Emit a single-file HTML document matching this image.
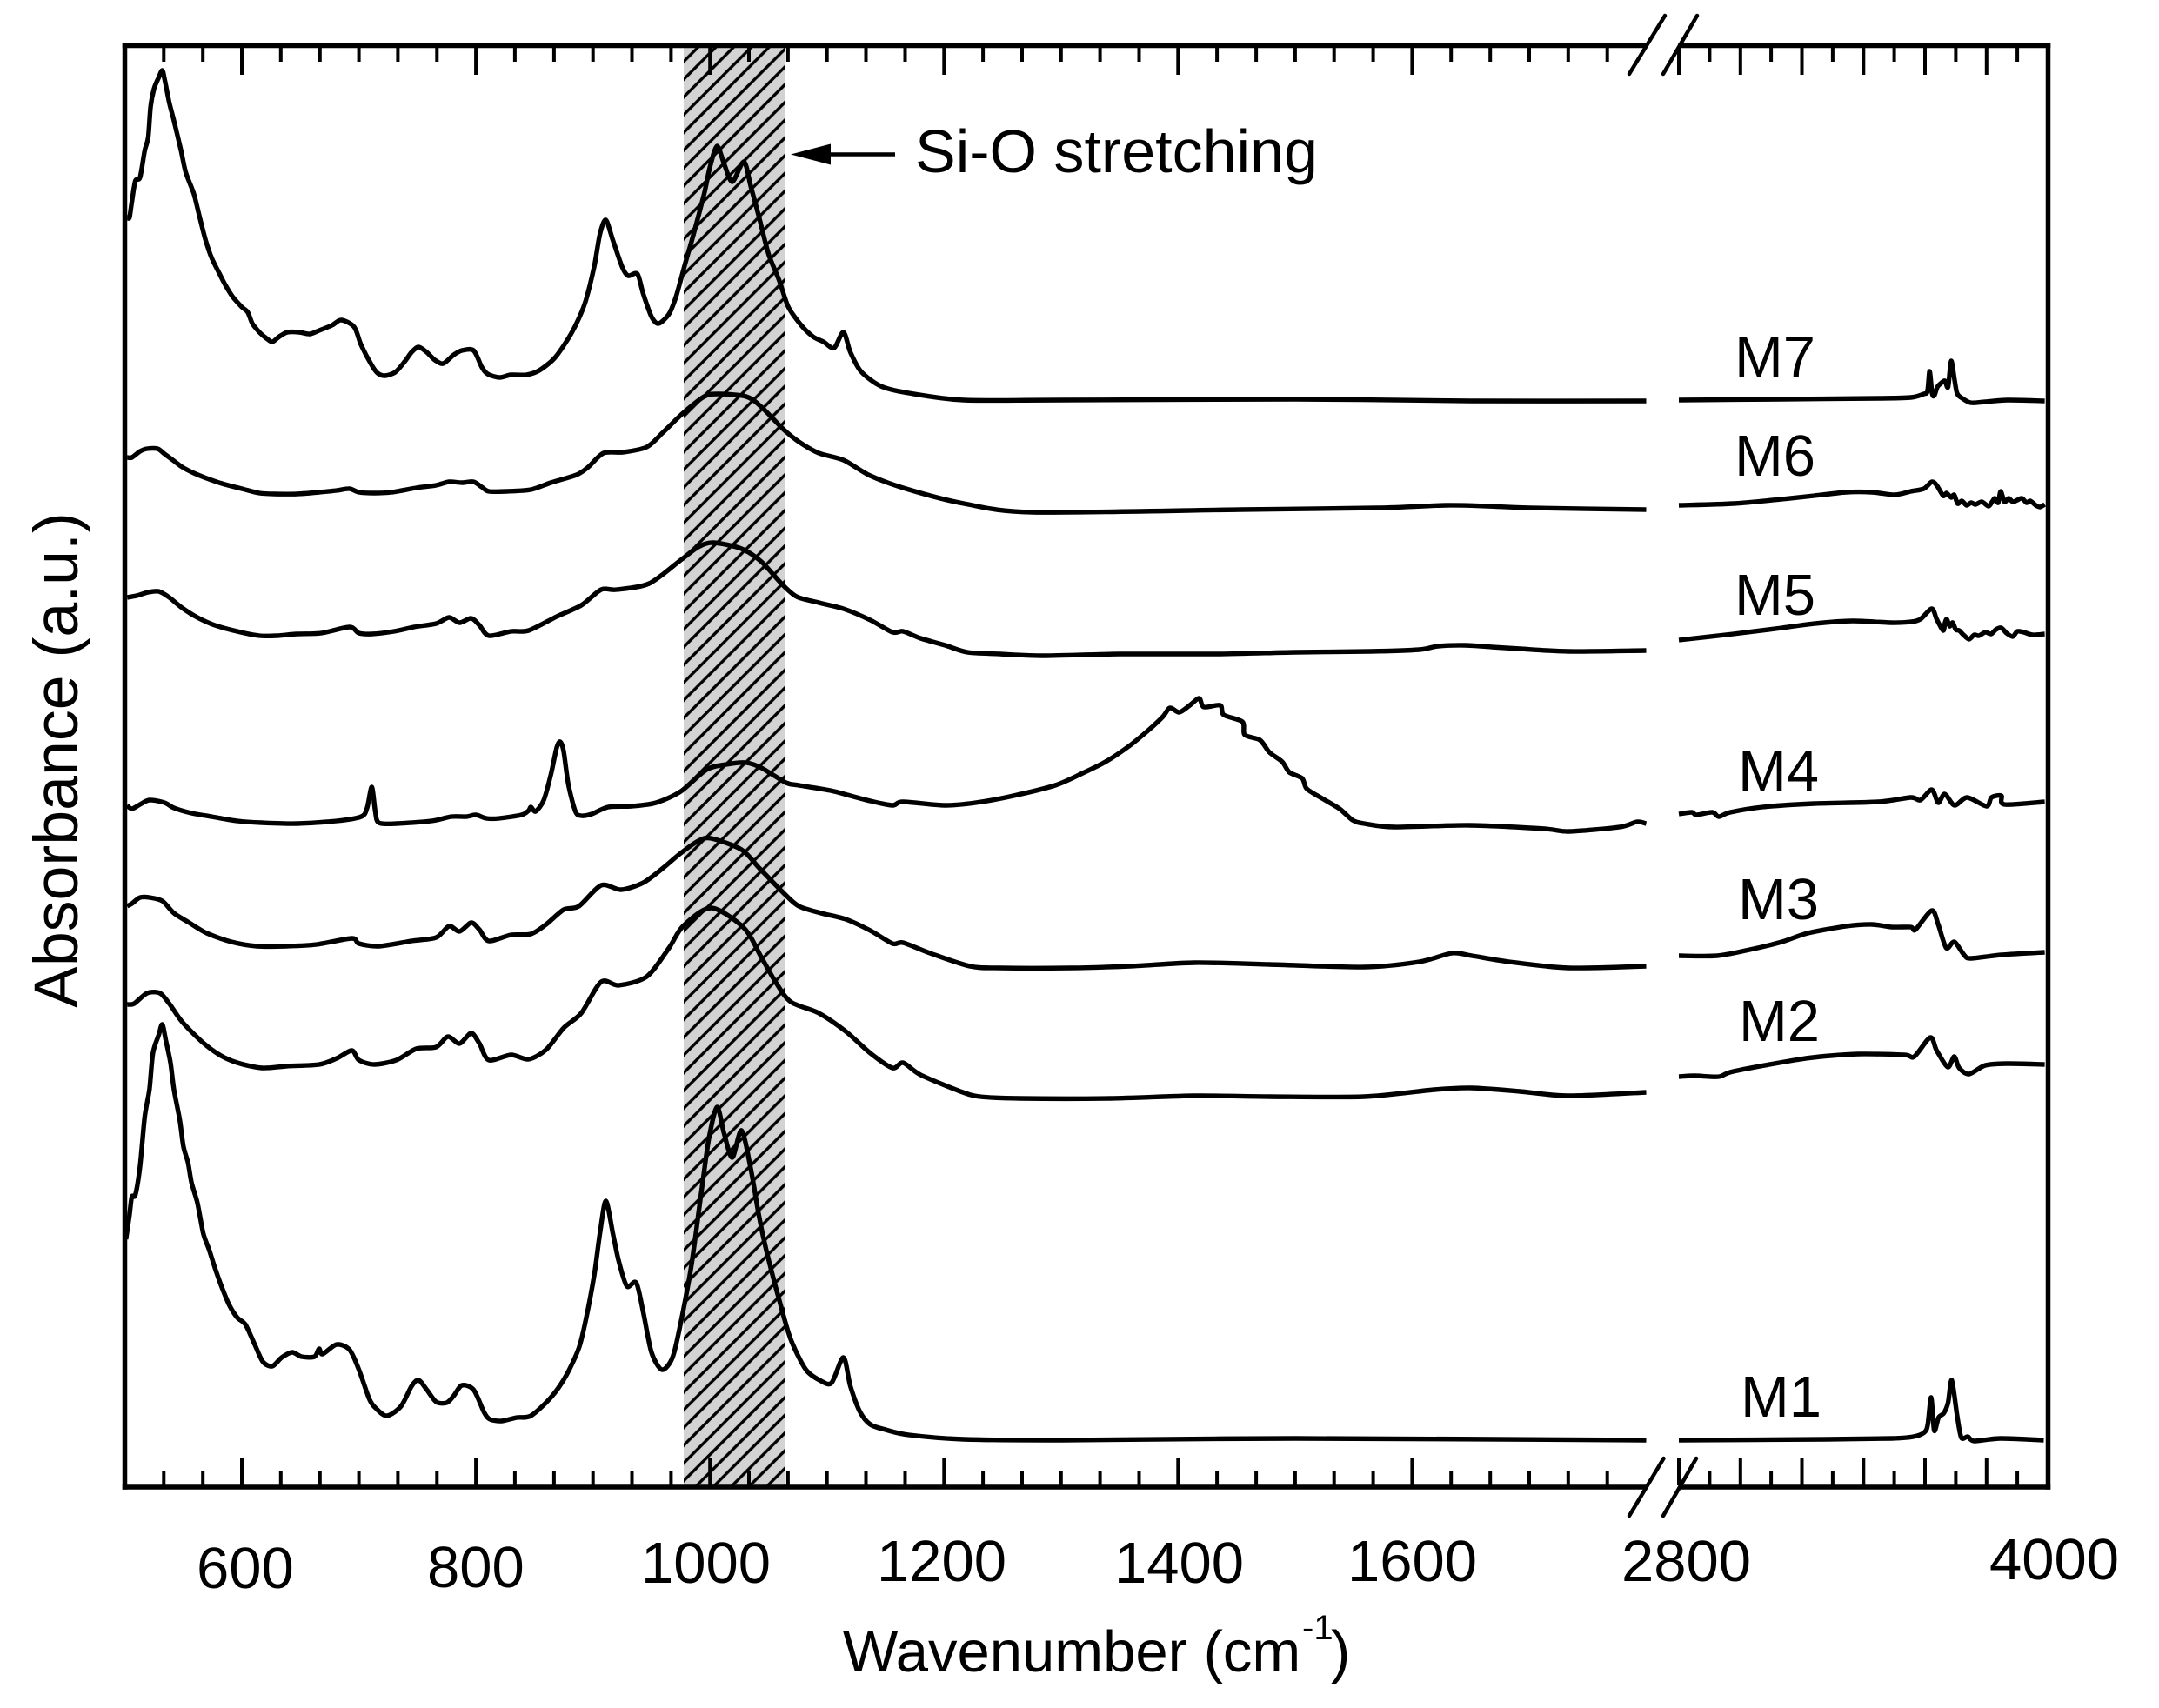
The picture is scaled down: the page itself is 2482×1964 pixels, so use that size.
<!DOCTYPE html>
<html lang="en">
<head>
<meta charset="utf-8">
<title>Absorbance spectra M1-M7</title>
<style>
html,body{margin:0;padding:0;background:#fff;}
svg{display:block;}
text{font-family:"Liberation Sans",Arial,sans-serif;fill:#000;}
</style>
</head>
<body>
<svg id="chart" xmlns="http://www.w3.org/2000/svg" width="2482" height="1964" viewBox="0 0 2482 1964">
<defs>
<pattern id="hatch" patternUnits="userSpaceOnUse" width="20.4" height="20.4">
<rect width="20.4" height="20.4" fill="#d3d3d3"/>
<path d="M-5.1,5.1 L5.1,-5.1 M0,20.4 L20.4,0 M15.3,25.5 L25.5,15.3" stroke="#000" stroke-width="3.4" fill="none"/>
</pattern>
</defs>
<rect width="2482" height="1964" fill="#fff"/>
<rect x="786" y="52" width="116" height="1658" fill="url(#hatch)"/>
<g id="ticks"></g>
<g id="series"></g>
<g stroke="#000" stroke-width="5.5" fill="none" stroke-linecap="square">
<path d="M143.5,52.5 V1710"/>
<path d="M2354.5,52.5 V1710"/>
<path d="M143.5,52.5 H1890"/>
<path d="M1932,52.5 H2354.5"/>
<path d="M143.5,1710 H1890"/>
<path d="M1932,1710 H2354.5"/>
</g>
<g stroke="#000" stroke-width="4.5" stroke-linecap="round" fill="none">
<path d="M1873,85 L1914,18"/>
<path d="M1912,85 L1951,18"/>
<path d="M1873,1743 L1912.5,1677"/>
<path d="M1912,1743 L1950,1677"/>
</g>
<g font-size="67">
<text x="226" y="1826">600</text>
<text x="491" y="1825">800</text>
<text x="737" y="1820">1000</text>
<text x="1008" y="1818">1200</text>
<text x="1281" y="1820">1400</text>
<text x="1549" y="1818">1600</text>
<text x="1864" y="1818">2800</text>
<text x="2287" y="1816">4000</text>
</g>
<text x="969" y="1922" font-size="67">Wavenumber (cm<tspan x="1497" y="1885" font-size="40">-1</tspan><tspan x="1530" y="1922">)</tspan></text>
<text transform="translate(89,1159) rotate(-90)" font-size="71.7">Absorbance (a.u.)</text>
<g>
<path d="M909,177.5 L955,165.5 V189.5 Z" fill="#000"/>
<path d="M950,177.5 H1029" stroke="#000" stroke-width="4.5" fill="none"/>
<text x="1052" y="198" font-size="70">Si-O stretching</text>
</g>
<g font-size="67">
<text x="1994" y="433">M7</text>
<text x="1994" y="547">M6</text>
<text x="1994" y="707">M5</text>
<text x="1998" y="909">M4</text>
<text x="1998" y="1057">M3</text>
<text x="1999" y="1197">M2</text>
<text x="2001" y="1629">M1</text>
</g>
</svg>
<script>
const majorTicksLow = [600,800,1000,1200,1400,1600];
const majorTicksHigh = [2800,3000,3200,3400,3600,3800];
const minorTicksHigh = [2900,3100,3300,3500,3700,3900];
const minorTicksLow = [533.3,566.7,633.3,666.7,700,733.3,766.7,833.3,866.7,900,933.3,966.7,1033.3,1066.7,1100,1133.3,1166.7,1233.3,1266.7,1300,1333.3,1366.7,1433.3,1466.7,1500,1533.3,1566.7,1633.3,1666.7,1700,1733.3,1766.7];

const m7Wavenumber = [502,504,506,509,513,517,520,522,525,529,532,534,538,542,548,552,559,564,569,574,581,586,592,600,605,609,615,621,626,632,639,649,658,666,677,685,696,702,711,716,722,731,739,745,751,758,765,772,781,788,798,805,810,820,830,843,854,867,879,888,894,901,906,911,917,925,930,938,943,950,956,965,971,978,986,995,1000,1006,1012,1019,1029,1035,1042,1050,1059,1067,1078,1088,1097,1106,1114,1120,1129,1146,1170,1217,1300,1500,1650,1800,2800,3135,3449,3554,3596,3608,3615,3623,3630,3640,3654,3665,3675,3685,3696,3704,3717,3748,3796,3869,3989];
const m7Absorbance = [1460,1460,1478,1502,1506,1537,1552,1587,1608,1621,1629,1619,1592,1571,1537,1512,1487,1460,1434,1414,1395,1382,1369,1357,1351,1338,1328,1321,1317,1323,1328,1328,1326,1330,1336,1342,1334,1313,1290,1281,1278,1282,1294,1305,1311,1305,1296,1292,1302,1307,1307,1288,1280,1276,1279,1279,1284,1298,1321,1344,1365,1403,1441,1457,1434,1403,1393,1395,1372,1346,1338,1349,1369,1403,1441,1487,1518,1542,1522,1501,1524,1495,1460,1418,1388,1357,1336,1323,1317,1310,1328,1305,1283,1266,1258,1250,1250,1251,1249,1249,1250,1251,1252,1253,1257,1260,1283,1258,1255,1265,1270,1272,1265,1295,1273,1258,1253,1247,1248,1250,1249];

const m6Wavenumber = [502,506,513,519,528,534,542,549,559,570,583,600,615,628,647,666,681,692,700,713,728,749,766,777,788,798,805,811,826,847,864,886,896,909,926,946,960,977,995,1007,1031,1044,1063,1076,1093,1114,1137,1170,1217,1276,1453,1570,1629,1665,1700,1800,2800,2977,3135,3240,3344,3428,3501,3554,3596,3622,3638,3659,3670,3685,3695,3706,3720,3735,3750,3764,3785,3806,3818,3827,3838,3846,3858,3872,3885,3900,3915,3930,3942,3960,3974,3989];
const m6Absorbance = [1184,1184,1191,1194,1194,1188,1180,1173,1166,1160,1154,1148,1143,1142,1142,1144,1146,1148,1144,1143,1144,1149,1152,1156,1155,1156,1150,1145,1145,1147,1155,1164,1173,1189,1190,1196,1213,1235,1254,1257,1254,1242,1216,1202,1189,1181,1163,1147,1131,1121,1124,1126,1129,1128,1126,1124,1129,1131,1136,1140,1144,1144,1141,1145,1148,1156,1152,1140,1143,1138,1141,1131,1134,1129,1132,1130,1133,1128,1133,1137,1132,1145,1133,1137,1133,1135,1137,1132,1134,1129,1127,1130];

const m5Wavenumber = [502,510,520,529,538,549,562,577,596,615,630,647,668,692,700,711,730,747,766,777,786,796,803,811,830,845,869,890,907,920,948,975,990,1003,1027,1044,1061,1074,1093,1114,1137,1156,1165,1180,1201,1220,1248,1286,1350,1436,1500,1564,1606,1622,1645,1668,1692,1734,1800,2800,2977,3135,3240,3365,3491,3554,3585,3622,3638,3659,3665,3671,3680,3690,3700,3711,3725,3743,3760,3775,3796,3815,3830,3848,3865,3885,3900,3921,3950,3989];
const m5Absorbance = [1023,1025,1029,1030,1023,1011,1000,991,984,979,979,981,982,989,982,981,984,989,993,1000,994,999,991,979,984,985,1001,1014,1032,1032,1039,1066,1081,1086,1079,1064,1039,1024,1017,1010,997,983,984,976,968,960,958,956,958,958,960,961,963,967,968,966,964,961,962,974,981,988,993,996,994,995,998,1010,998,985,994,998,990,994,986,985,980,975,980,979,983,981,986,988,982,978,984,983,980,981];

const m4Wavenumber = [502,506,513,521,534,542,557,574,596,617,647,681,702,707,711,714,717,732,762,779,792,800,809,820,839,845,847,851,858,864,869,872,875,879,885,890,899,913,933,954,975,997,1014,1031,1044,1065,1076,1103,1120,1137,1156,1165,1201,1227,1256,1295,1320,1338,1359,1376,1387,1393,1401,1410,1418,1422,1436,1439,1455,1457,1470,1478,1489,1495,1506,1510,1523,1538,1549,1559,1585,1649,1713,1734,1777,1792,1800,2800,2842,2857,2909,2930,2967,3072,3240,3449,3554,3585,3622,3643,3664,3696,3737,3800,3816,3848,3858,3989];
const m4Absorbance = [784,780,785,790,787,781,775,771,766,764,763,766,771,781,805,777,764,763,766,771,771,773,769,769,773,778,782,777,790,819,850,857,846,808,777,772,774,782,783,787,800,825,831,833,827,810,807,801,795,789,784,788,784,787,794,807,822,834,853,872,886,896,891,899,907,897,899,888,880,865,859,845,834,822,815,803,792,780,767,763,759,761,757,754,759,765,763,774,776,773,776,771,776,782,786,788,793,790,802,787,797,784,793,783,793,795,785,788];

const m3Wavenumber = [502,506,513,521,532,542,555,570,591,613,638,664,694,700,717,745,766,777,786,796,803,811,830,847,860,875,888,907,924,943,960,975,990,1001,1027,1042,1063,1076,1095,1116,1137,1156,1165,1188,1222,1248,1308,1359,1414,1478,1559,1606,1634,1651,1683,1734,1800,2800,2925,3030,3135,3219,3344,3428,3491,3554,3569,3622,3643,3669,3695,3727,3748,3848,3989];
const m3Absorbance = [668,671,678,678,674,660,649,637,627,622,622,624,631,625,622,628,632,645,639,649,641,628,635,636,647,664,668,692,687,695,712,729,743,746,733,712,683,668,660,653,640,625,626,614,599,597,597,599,603,601,598,604,614,611,604,597,599,611,611,618,627,637,645,647,644,644,641,663,647,620,627,612,608,612,615];

const m2Wavenumber = [502,508,519,530,538,549,566,581,596,617,638,666,681,694,700,713,732,749,766,776,786,796,803,811,830,845,860,875,890,907,922,946,965,977,1001,1029,1044,1056,1069,1093,1116,1137,1156,1165,1180,1214,1231,1265,1342,1414,1478,1559,1619,1651,1692,1734,1800,2800,2852,2930,2977,3176,3260,3386,3533,3565,3617,3638,3674,3695,3711,3743,3796,3869,3989];
const m2Absorbance = [555,556,568,568,556,535,512,497,488,482,484,486,493,502,491,486,491,504,506,518,510,522,510,491,497,492,503,528,545,581,577,587,620,645,666,643,609,581,558,545,524,499,482,488,474,455,449,447,447,450,449,449,457,459,455,450,454,472,473,472,478,491,495,498,497,495,517,502,483,495,482,475,485,487,486];

const m1Wavenumber = [501,504,506,509,513,517,521,524,529,532,535,539,542,547,550,554,557,562,567,572,577,582,589,596,603,611,618,626,634,643,651,662,666,669,681,692,700,709,715,724,736,745,751,758,766,775,781,788,798,807,812,822,835,847,864,877,888,894,901,906,911,917,922,929,937,943,950,959,968,975,984,993,999,1006,1012,1019,1027,1035,1042,1048,1059,1069,1082,1095,1104,1114,1120,1128,1137,1150,1170,1217,1300,1500,1800,2800,3280,3492,3562,3598,3609,3620,3630,3644,3661,3675,3687,3704,3718,3739,3760,3845,3986];
const m1Absorbance = [285,313,334,336,369,426,457,499,520,532,514,488,457,422,392,373,350,327,292,273,252,233,210,195,187,164,144,139,149,155,150,150,159,153,164,158,135,101,90,82,93,116,123,112,98,97,105,117,112,86,78,76,80,82,103,128,160,193,243,292,329,292,260,231,235,201,155,135,149,189,254,343,400,437,407,379,410,365,311,273,216,170,135,122,120,149,116,87,72,66,60,55,54,56,54,54,55,56,58,63,72,103,65,80,85,97,123,83,57,58,53,56,54];

const seriesNames = ['m1','m2','m3','m4','m5','m6','m7'];
const seriesWavenumbers = [m1Wavenumber,m2Wavenumber,m3Wavenumber,m4Wavenumber,m5Wavenumber,m6Wavenumber,m7Wavenumber];
const seriesAbsorbances = [m1Absorbance,m2Absorbance,m3Absorbance,m4Absorbance,m5Absorbance,m6Absorbance,m7Absorbance];

const SVG_NS = 'http://www.w3.org/2000/svg';
const breakLow = 1800;
const lowDomainStart = 500;
const lowRangeStart = 143.5;
const lowRangeEnd = 1892.5;
const highDomainStart = 2800;
const highDomainEnd = 4000;
const highRangeStart = 1930;
const highRangeEnd = 2354.5;
const plotBottom = 1710;
const plotTop = 52;
const absorbanceMax = 1658;
const smoothing = 0.14;

function xScale(w) {
  if (w <= breakLow) {
    return lowRangeStart + (w - lowDomainStart) * (lowRangeEnd - lowRangeStart) / (breakLow - lowDomainStart);
  }
  return highRangeStart + (w - highDomainStart) * (highRangeEnd - highRangeStart) / (highDomainEnd - highDomainStart);
}
function yScale(a) {
  return plotBottom - a * (plotBottom - plotTop) / absorbanceMax;
}
function smoothPath(points) {
  let d = 'M' + points[0][0].toFixed(1) + ',' + points[0][1].toFixed(1);
  for (let i = 0; i < points.length - 1; i++) {
    const p0 = points[Math.max(i - 1, 0)];
    const p1 = points[i];
    const p2 = points[i + 1];
    const p3 = points[Math.min(i + 2, points.length - 1)];
    const c1x = p1[0] + (p2[0] - p0[0]) * smoothing;
    const c1y = p1[1] + (p2[1] - p0[1]) * smoothing;
    const c2x = p2[0] - (p3[0] - p1[0]) * smoothing;
    const c2y = p2[1] - (p3[1] - p1[1]) * smoothing;
    d += ' C' + c1x.toFixed(1) + ',' + c1y.toFixed(1) + ' ' + c2x.toFixed(1) + ',' + c2y.toFixed(1) + ' ' + p2[0].toFixed(1) + ',' + p2[1].toFixed(1);
  }
  return d;
}

const tickGroup = document.getElementById('ticks');
function drawTick(value, length, kind) {
  const x = xScale(value).toFixed(1);
  const d = 'M' + x + ',' + (plotBottom - 2) + ' V' + (plotBottom - 2 - length) + ' M' + x + ',55 V' + (55 + length);
  const el = document.createElementNS(SVG_NS, 'path');
  el.setAttribute('d', d);
  el.setAttribute('stroke', '#000');
  el.setAttribute('stroke-width', '4');
  el.setAttribute('fill', 'none');
  
  
  tickGroup.appendChild(el);
}
majorTicksLow.concat(majorTicksHigh).forEach(function (v) { drawTick(v, 31, 'major'); });
minorTicksLow.concat(minorTicksHigh).forEach(function (v) { drawTick(v, 16, 'minor'); });

const seriesGroup = document.getElementById('series');
seriesNames.forEach(function (name, i) {
  const ws = seriesWavenumbers[i];
  const as = seriesAbsorbances[i];
  const low = [];
  const high = [];
  ws.forEach(function (w, j) {
    const point = [xScale(w), yScale(as[j])];
    if (w <= breakLow) {
      low.push(point);
    } else {
      high.push(point);
    }
  });
  const el = document.createElementNS(SVG_NS, 'path');
  el.setAttribute('d', smoothPath(low) + ' ' + smoothPath(high));
  el.setAttribute('fill', 'none');
  el.setAttribute('stroke', '#000');
  el.setAttribute('stroke-width', '5.4');
  el.setAttribute('stroke-linejoin', 'round');
  
  
  seriesGroup.appendChild(el);
});
</script>
</body>
</html>
